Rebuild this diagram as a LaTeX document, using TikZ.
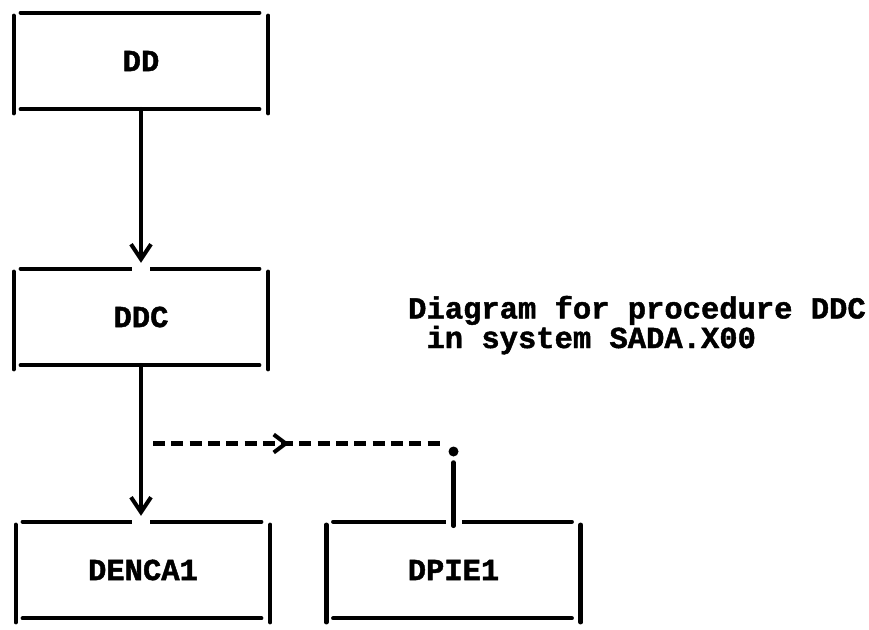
\documentclass[tikz,border=0pt]{standalone}
\usepackage{fontspec}
\setmonofont{Liberation Mono}[BoldFeatures={FakeBold=1.5}]
\usepackage{tikz}
\usetikzlibrary{arrows.meta,calc,decorations.markings}
\newcommand{\typefont}{\ttfamily\bfseries\fontsize{30.5}{24}\selectfont}
\newcommand{\boxedges}[1]{%
\draw[rule] ([xshift=7pt]#1.north west) -- ([xshift=-9pt]#1.north east);
\draw[rule] ([xshift=7pt]#1.south west) -- ([xshift=-9pt]#1.south east);
\draw[rule] ([yshift=-3pt]#1.north west) -- ([yshift=-4pt]#1.south west);
\draw[rule] ([yshift=-3pt]#1.north east) -- ([yshift=-4pt]#1.south east);}
\tikzset{
  proc/.style={minimum width=254pt, minimum height=96pt, inner sep=0pt, font=\typefont},
  rule/.style={line width=4.5pt, line cap=round},
  flow/.style={rule, shorten >=6pt, -{Straight Barb[length=15pt,width=20pt,line width=4pt]}},
  notch/.style={white, line width=8pt},
  calls/.style={line width=4.5pt, dash pattern=on 12pt off 6.3pt,
    postaction={decorate}, decoration={markings,
    mark=at position 0.47 with {\arrow[solid]{Straight Barb[length=12pt,width=18pt,line width=4pt]}}}}
}

\begin{document}
\begin{tikzpicture}[x=1pt, y=-1pt]
\useasboundingbox (0,0) rectangle (869,629);
\node[proc] (dd) at (141,61) {DD};
\node[proc] (ddc) at (141,317) {DDC};
\node[proc] (denca) at (143,570) {DENCA1};
\node[proc] (dpie) at (453.5,570) {DPIE1};
\boxedges{dd}
\boxedges{ddc}
\boxedges{denca}
\boxedges{dpie}
\node[anchor=base west, align=left, font=\typefont, inner sep=0pt] (caption) at (408,348)
  {Diagram for procedure DDC\\~in system SADA.X00};

\draw[notch] ([xshift=-9pt]ddc.north) -- ([xshift=9pt]ddc.north);
\draw[notch] ([xshift=-9pt]denca.north -| ddc.south) -- ([xshift=9pt]denca.north -| ddc.south);
\draw[notch] ([xshift=-8pt]dpie.north) -- ([xshift=8pt]dpie.north);

\draw[flow] (dd.south) -- (ddc.north);
\draw[flow] (ddc.south) -- (denca.north -| ddc.south);

\coordinate (tap) at ($(ddc.south)!0.5!(denca.north -| ddc.south)$);
\coordinate (knee) at (dpie.north |- tap);
\draw[calls] ([xshift=12pt]tap) -- ([xshift=-11pt]knee);
\fill ([yshift=-8pt]knee) circle (5pt);
\draw[rule] ([yshift=-19pt]knee) -- ([yshift=-4pt]dpie.north);
\end{tikzpicture}
\end{document}
